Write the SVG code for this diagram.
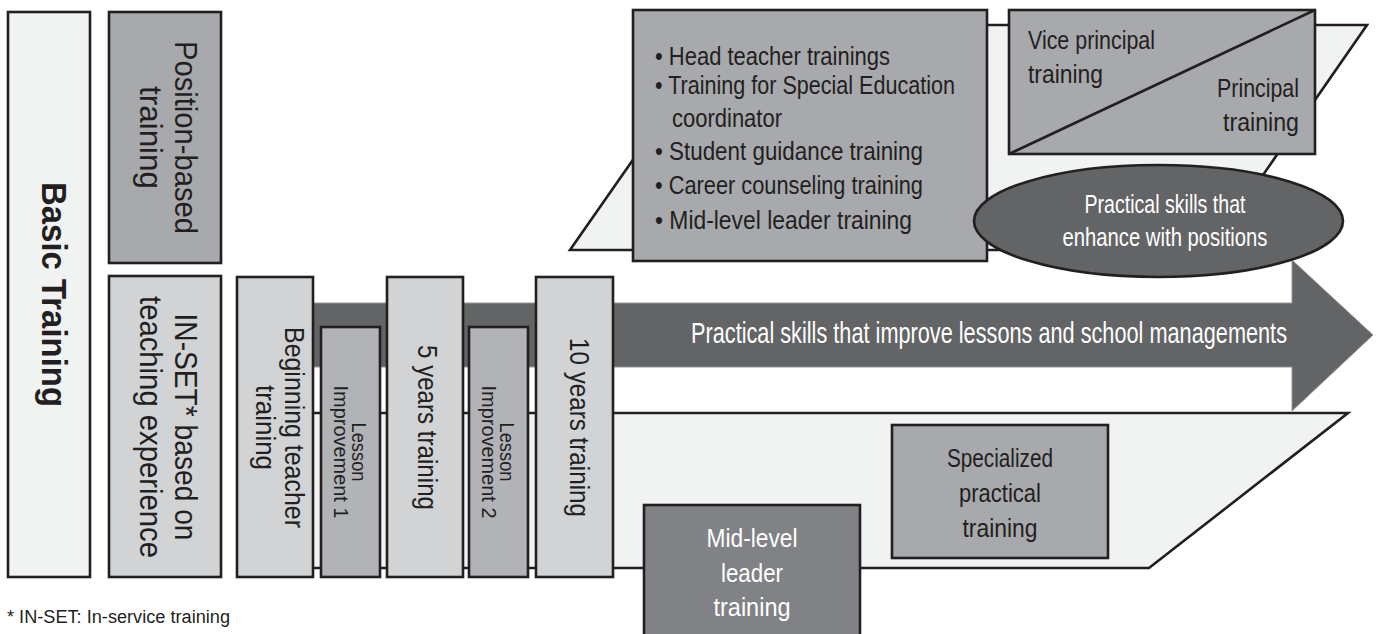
<svg xmlns="http://www.w3.org/2000/svg" width="1377" height="634" viewBox="0 0 1377 634">
<style>
.bx{stroke:#231f20;stroke-width:2.6}
.lightest{fill:#f1f2f2}
.light{fill:#d1d3d4}
.mid{fill:#a7a9ac}
.li{fill:#b1b3b6}
.dk{fill:#808285}
.darkest{fill:#636466}
text{font-family:"Liberation Sans",Arial,sans-serif}
.t{fill:#231f20}
.w{fill:#ffffff}
.m{text-anchor:middle}
.e{text-anchor:end}
</style>
<rect width="1377" height="634" fill="#ffffff"/>

<g id="upper-band">
<polygon class="bx lightest" points="727,25 1367,25 1211,250 570,250"/>
</g>
<g id="lower-band">
<polygon class="bx lightest" points="300,413 1348,413 1149,568 300,568"/>
</g>

<g id="connectors">
<g id="main-arrow">
<polygon points="313,303 1292,303 1292,260 1373,335 1292,411 1292,367 313,367" fill="#636466" stroke="#939598" stroke-width="1"/>
<text class="w" x="691" y="343" font-size="29" textLength="596" lengthAdjust="spacingAndGlyphs">Practical skills that improve lessons and school managements</text>
</g>
</g>

<g id="basic-training">
<rect class="bx lightest" x="8" y="12" width="82" height="565"/>
<g transform="translate(49,294.5) rotate(90)"><text class="t m" x="0" y="7" font-size="35" font-weight="bold" textLength="225" lengthAdjust="spacingAndGlyphs">Basic Training</text></g>
</g>

<g id="position-based">
<rect class="bx mid" x="109" y="12" width="112" height="251"/>
<g transform="translate(165,137.5) rotate(90)">
<text class="t m" x="0" y="-10" font-size="31" textLength="193" lengthAdjust="spacingAndGlyphs">Position-based</text>
<text class="t m" x="0" y="25" font-size="31" textLength="103" lengthAdjust="spacingAndGlyphs">training</text>
</g>
</g>

<g id="in-set">
<rect class="bx light" x="109" y="276" width="112" height="301"/>
<g transform="translate(165,427) rotate(90)">
<text class="t m" x="0" y="-10" font-size="31" textLength="227" lengthAdjust="spacingAndGlyphs">IN-SET* based on</text>
<text class="t m" x="0" y="25" font-size="31" textLength="262" lengthAdjust="spacingAndGlyphs">teaching experience</text>
</g>
</g>

<g id="beginning-teacher">
<rect class="bx light" x="237" y="277" width="76" height="300"/>
<g transform="translate(275,427.5) rotate(90)">
<text class="t m" x="0" y="-10" font-size="27" textLength="201" lengthAdjust="spacingAndGlyphs">Beginning teacher</text>
<text class="t m" x="0" y="19" font-size="27" textLength="85" lengthAdjust="spacingAndGlyphs">training</text>
</g>
</g>

<g id="lesson-improvement-1">
<rect class="bx li" x="321" y="327" width="59" height="250"/>
<g transform="translate(350.5,452) rotate(90)">
<text class="t m" x="0" y="-1.5" font-size="20" textLength="59" lengthAdjust="spacingAndGlyphs">Lesson</text>
<text class="t m" x="0" y="16.5" font-size="20" textLength="133" lengthAdjust="spacingAndGlyphs">Improvement 1</text>
</g>
</g>

<g id="five-years">
<rect class="bx light" x="387" y="277" width="76" height="300"/>
<g transform="translate(425,427.5) rotate(90)">
<text class="t m" x="0" y="7" font-size="27" textLength="165" lengthAdjust="spacingAndGlyphs">5 years training</text>
</g>
</g>

<g id="lesson-improvement-2">
<rect class="bx li" x="469" y="327" width="59" height="250"/>
<g transform="translate(498.5,452) rotate(90)">
<text class="t m" x="0" y="-1.5" font-size="20" textLength="59" lengthAdjust="spacingAndGlyphs">Lesson</text>
<text class="t m" x="0" y="16.5" font-size="20" textLength="133" lengthAdjust="spacingAndGlyphs">Improvement 2</text>
</g>
</g>

<g id="ten-years">
<rect class="bx light" x="536" y="277" width="77" height="300"/>
<g transform="translate(574.5,427.5) rotate(90)">
<text class="t m" x="0" y="4.5" font-size="27" textLength="179" lengthAdjust="spacingAndGlyphs">10 years training</text>
</g>
</g>

<g id="position-list">
<rect class="bx mid" x="633" y="10" width="354" height="251"/>
<text class="t" x="655" y="65" font-size="25" textLength="235" lengthAdjust="spacingAndGlyphs">• Head teacher trainings</text>
<text class="t" x="655" y="94" font-size="25" textLength="300" lengthAdjust="spacingAndGlyphs">• Training for Special Education</text>
<text class="t" x="672" y="127" font-size="25" textLength="110" lengthAdjust="spacingAndGlyphs">coordinator</text>
<text class="t" x="655" y="160" font-size="25" textLength="268" lengthAdjust="spacingAndGlyphs">• Student guidance training</text>
<text class="t" x="655" y="194" font-size="25" textLength="268" lengthAdjust="spacingAndGlyphs">• Career counseling training</text>
<text class="t" x="655" y="229" font-size="25" textLength="257" lengthAdjust="spacingAndGlyphs">• Mid-level leader training</text>
</g>

<g id="principal-training">
<rect class="bx mid" x="1009" y="10" width="306" height="144"/>
<line x1="1009" y1="154" x2="1315" y2="10" stroke="#231f20" stroke-width="2.6"/>
<text class="t" x="1028" y="49" font-size="25" textLength="127" lengthAdjust="spacingAndGlyphs">Vice principal</text>
<text class="t" x="1028" y="83" font-size="25" textLength="75" lengthAdjust="spacingAndGlyphs">training</text>
<text class="t e" x="1299" y="97" font-size="25" textLength="82" lengthAdjust="spacingAndGlyphs">Principal</text>
<text class="t e" x="1299" y="131" font-size="25" textLength="76" lengthAdjust="spacingAndGlyphs">training</text>
</g>

<g id="skills-positions">
<ellipse class="bx darkest" cx="1158.5" cy="221" rx="184.5" ry="56"/>
<text class="w m" x="1165" y="213" font-size="25" textLength="161" lengthAdjust="spacingAndGlyphs">Practical skills that</text>
<text class="w m" x="1165" y="246" font-size="25" textLength="205" lengthAdjust="spacingAndGlyphs">enhance with positions</text>
</g>

<g id="specialized">
<rect class="bx mid" x="892" y="425" width="216" height="133"/>
<text class="t m" x="1000" y="467" font-size="26" textLength="106" lengthAdjust="spacingAndGlyphs">Specialized</text>
<text class="t m" x="1000" y="502" font-size="26" textLength="82" lengthAdjust="spacingAndGlyphs">practical</text>
<text class="t m" x="1000" y="537" font-size="26" textLength="75" lengthAdjust="spacingAndGlyphs">training</text>
</g>

<g id="mid-level">
<rect class="bx dk" x="644" y="505" width="216" height="140"/>
<text class="w m" x="752" y="547" font-size="26" textLength="91" lengthAdjust="spacingAndGlyphs">Mid-level</text>
<text class="w m" x="752" y="582" font-size="26" textLength="62" lengthAdjust="spacingAndGlyphs">leader</text>
<text class="w m" x="752" y="616" font-size="26" textLength="77" lengthAdjust="spacingAndGlyphs">training</text>
</g>

<g id="footnote">
<text class="t" x="7" y="623" font-size="18" textLength="223" lengthAdjust="spacingAndGlyphs">* IN-SET: In-service training</text>
</g>
</svg>
